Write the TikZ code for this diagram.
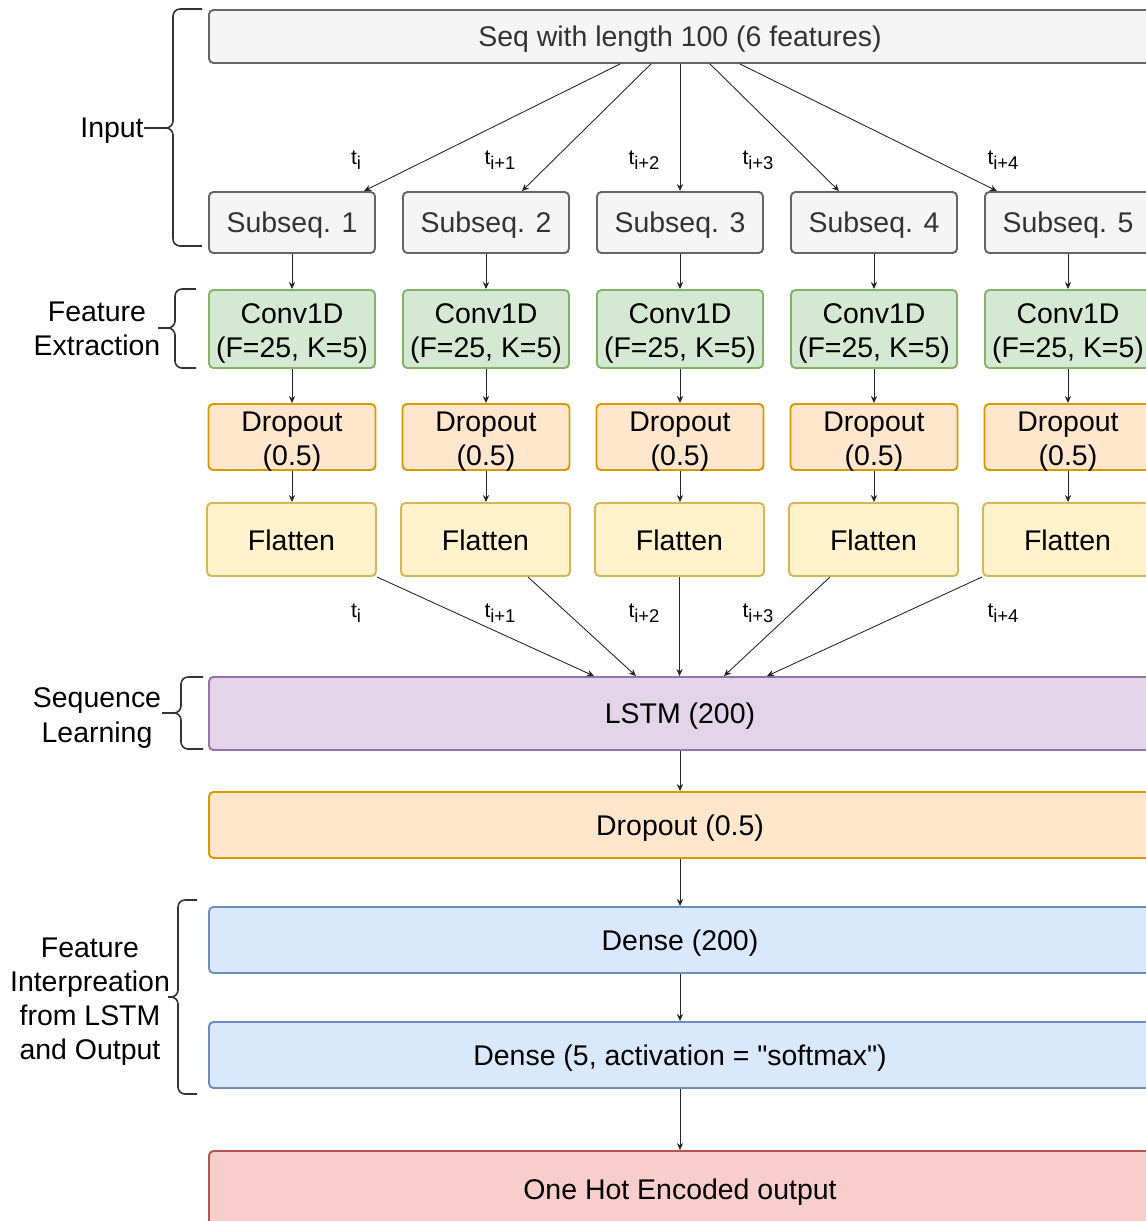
\documentclass[tikz,border=0pt]{standalone}
\usepackage{fontspec}
\setmainfont{Liberation Sans}[Ligatures=TeXOff]
\usetikzlibrary{arrows.meta,calc}

\definecolor{grayfill}{HTML}{F5F5F5}
\definecolor{graydraw}{HTML}{666666}
\definecolor{graytext}{HTML}{333333}
\definecolor{greenfill}{HTML}{D5E8D4}
\definecolor{greendraw}{HTML}{82B366}
\definecolor{orangefill}{HTML}{FFE6CC}
\definecolor{orangedraw}{HTML}{D79B00}
\definecolor{yellowfill}{HTML}{FFF2CC}
\definecolor{yellowdraw}{HTML}{D6B656}
\definecolor{purplefill}{HTML}{E1D5E7}
\definecolor{purpledraw}{HTML}{9673A6}
\definecolor{bluefill}{HTML}{DAE8FC}
\definecolor{bluedraw}{HTML}{6C8EBF}
\definecolor{redfill}{HTML}{F8CECC}
\definecolor{reddraw}{HTML}{B85450}

% t with a lowered index, as in t_{i+1}
\newcommand\tsub[1]{t\raisebox{-0.45ex}{\fontsize{10.5}{10.5}\selectfont #1}}

% left curly brace: tip x, spine x, point x, top y, middle y, bottom y
\newcommand\leftbrace[6]{%
  \draw[bracepath] (#1,#4) -- (#2,#4) -- (#2,#5) -- (#3,#5);
  \draw[bracepath] (#1,#6) -- (#2,#6) -- (#2,#5) -- (#3,#5);}

\tikzset{
  box/.style={draw, rounded corners=2.5pt, line width=1.1pt, inner sep=0pt,
    align=center, font=\fontsize{16.2}{19.4}\selectfont,
    execute at begin node={\rule{0pt}{0.92em}},
    execute at end node={\rule[-0.12em]{0pt}{0pt}}},
  twoline/.style={text height=34.3pt, text depth=1.9pt},
  wh/.style 2 args={minimum width=#1*0.02cm, minimum height=#2*0.02cm},
  graybox/.style={box, fill=grayfill, draw=graydraw, text=graytext},
  greenbox/.style={box, fill=greenfill, draw=greendraw},
  orangebox/.style={box, fill=orangefill, draw=orangedraw},
  yellowbox/.style={box, fill=yellowfill, draw=yellowdraw},
  purplebox/.style={box, fill=purplefill, draw=purpledraw},
  bluebox/.style={box, fill=bluefill, draw=bluedraw},
  redbox/.style={box, fill=redfill, draw=reddraw},
  arr/.style={-{Stealth[length=4pt,width=3.6pt]}, line width=0.5pt, draw=black!85},
  bracepath/.style={draw=black!80, line width=0.9pt, rounded corners=4pt},
  lbl/.style={inner sep=0pt, align=center, font=\fontsize{16.2}{19.4}\selectfont},
  tlbl/.style={inner sep=0pt, font=\fontsize{12}{14}\selectfont},
}

\begin{document}
\begin{tikzpicture}[x=0.02cm, y=-0.02cm]
\path[use as bounding box] (0,0) rectangle (1146,1221);
\clip (0,0) rectangle (1146,1221);

% input sequence and the five sub-sequences with their CNN branches
\node[graybox, wh={942}{53}] (seq) at (680,36.5) {Seq with length 100 (6 features)};
\foreach \i/\x in {1/292,2/486,3/680,4/874,5/1068} {
  \node[graybox, wh={166}{61}] (s\i) at (\x,222.5) {Subseq. \i};
  \node[greenbox, twoline, wh={166}{78}] (c\i) at (\x,329) {Conv1D\\(F=25, K=5)};
  \node[orangebox, twoline, wh={167}{66}] (d\i) at (\x,437) {Dropout\\(0.5)};
  \node[yellowbox, wh={169}{73}] (f\i) at (\x-0.5,539.5) {Flatten};
  \draw[arr] (s\i.south) -- (s\i.south |- c\i.north);
  \draw[arr] (c\i.south) -- (c\i.south |- d\i.north);
  \draw[arr] (d\i.south) -- (d\i.south |- f\i.north);
}

% splitting the sequence
\foreach \i/\a/\b in {1/-60/72, 2/-29/36, 3/0/0, 4/30/-35, 5/60/-71}
  \draw[arr] ($(seq.south)+(\a,0)$) -- ($(s\i.north)+(\b,0)$);

% time-step labels
\node[tlbl] (ta1) at (356,160) {\tsub{i}};
\node[tlbl] (ta2) at (500,160) {\tsub{i+1}};
\node[tlbl] (ta3) at (644,160) {\tsub{i+2}};
\node[tlbl] (ta4) at (758,160) {\tsub{i+3}};
\node[tlbl] (ta5) at (1003,160) {\tsub{i+4}};
\node[tlbl] (tb1) at (356,613) {\tsub{i}};
\node[tlbl] (tb2) at (500,613) {\tsub{i+1}};
\node[tlbl] (tb3) at (644,613) {\tsub{i+2}};
\node[tlbl] (tb4) at (758,613) {\tsub{i+3}};
\node[tlbl] (tb5) at (1003,613) {\tsub{i+4}};

% sequence learning and output layers
\node[purplebox, wh={942}{73}] (lstm) at (680,713.5) {LSTM (200)};
\node[orangebox, wh={942}{66}] (drop) at (680,825) {Dropout (0.5)};
\node[bluebox, wh={942}{66}] (dense1) at (680,940) {Dense (200)};
\node[bluebox, wh={942}{66}] (dense2) at (680,1055) {Dense (5, activation = "softmax")};
\node[redbox, wh={942}{76}] (out) at (680,1189) {One Hot Encoded output};

% flattened features into the LSTM
\draw[arr] (f1.south east) -- ($(lstm.north)+(-86,0)$);
\draw[arr] ($(f2.south)+(42.5,0)$) -- ($(lstm.north)+(-44,0)$);
\draw[arr] (f3.south) -- (f3.south |- lstm.north);
\draw[arr] ($(f4.south)+(-43.5,0)$) -- ($(lstm.north)+(44,0)$);
\draw[arr] (f5.south west) -- ($(lstm.north)+(87,0)$);

\draw[arr] (lstm) -- (drop);
\draw[arr] (drop) -- (dense1);
\draw[arr] (dense1) -- (dense2);
\draw[arr] (dense2) -- (out);

% stage braces and their labels
\node[lbl, anchor=east] (lin) at (144,131) {Input};
\leftbrace{202}{173}{166}{9}{128}{246}
\draw[bracepath] (lin.east |- 0,128) -- (166,128);

\node[lbl] (lfe) at (97,329) {Feature\\Extraction};
\leftbrace{196}{175}{158}{289}{328}{368}

\node[lbl] (lsl) at (97,718) {Sequence\\Learning};
\leftbrace{203}{181}{162}{677}{713}{749}

\node[lbl] (lfi) at (90,1002) {Feature\\Interpreation\\from LSTM\\and Output};
\leftbrace{197}{178}{168}{900}{997}{1094}
\end{tikzpicture}
\end{document}
